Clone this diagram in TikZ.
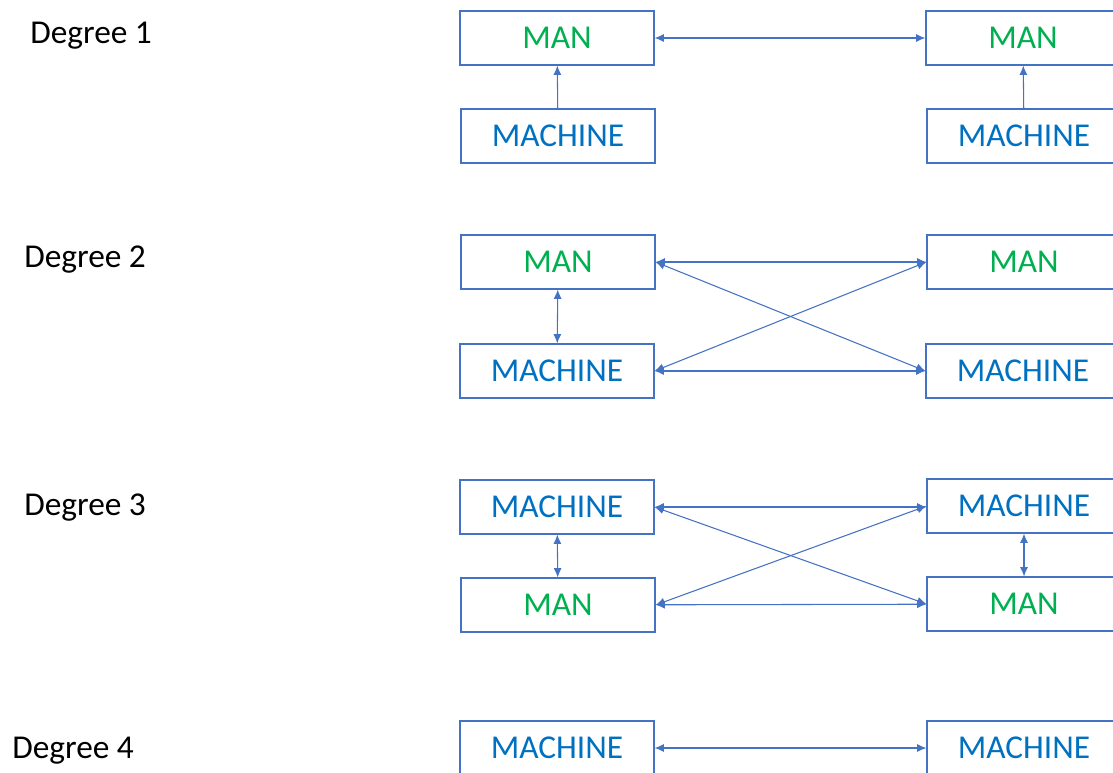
\documentclass[tikz,border=0pt]{standalone}
\usepackage{fontspec}
\setmainfont{Carlito}
\usetikzlibrary{arrows.meta}
\definecolor{boxblue}{HTML}{4472C4}
\definecolor{mangreen}{HTML}{00B050}
\definecolor{machblue}{HTML}{0070C0}
\tikzset {
    box/.style = {
        draw = boxblue,
        line width = 0.8pt,
        minimum width = 145.5pt,
        minimum height = 40.5pt,
        inner sep = 0pt,
        font = \fontsize{25}{30}\selectfont
    },
    man/.style = {box, text = mangreen},
    machine/.style = {box, text = machblue},
    degree/.style = {
        anchor = base west,
        inner sep = 0pt,
        font = \fontsize{25}{30}\selectfont
    },
    link/.style = {
        draw = boxblue,
        line width = 0.8pt,
        arrows = {Latex[length = 7pt, width = 6pt]-Latex[length = 7pt, width = 6pt]}
    },
    up link/.style = {
        draw = boxblue,
        line width = 0.8pt,
        arrows = {-Latex[length = 7pt, width = 6pt]}
    }
}
\begin{document}
\begin{tikzpicture}[x = 0.75pt, y = -0.75pt]
            \useasboundingbox (0, 0) rectangle (1113, 772);
            % degree 1
            \node (deg1) [degree] at (30, 43) {Degree 1};
            \node (d1lman) [man] at (557, 38) {MAN};
            \node (d1lmach) [machine] at (558, 136) {MACHINE};
            \node (d1rman) [man] at (1023, 38) {MAN};
            \node (d1rmach) [machine] at (1024, 136) {MACHINE};
            \draw [link] (d1lman) -- (d1rman);
            \draw [up link] (d1lmach) -- (d1lman);
            \draw [up link] (d1rmach) -- (d1rman);
            % degree 2
            \node (deg2) [degree] at (24, 267) {Degree 2};
            \node (d2lman) [man] at (558, 262) {MAN};
            \node (d2lmach) [machine] at (557, 371) {MACHINE};
            \node (d2rman) [man] at (1024, 262) {MAN};
            \node (d2rmach) [machine] at (1023, 371) {MACHINE};
            \draw [link] (d2lman) -- (d2lmach);
            \draw [link] (d2lman) -- (d2rman);
            \draw [link] (d2lmach) -- (d2rmach);
            \draw [link] (d2lman.east) -- (d2rmach.west);
            \draw [link] (d2lmach.east) -- (d2rman.west);
            % degree 3
            \node (deg3) [degree] at (24, 515) {Degree 3};
            \node (d3lmach) [machine] at (557, 507) {MACHINE};
            \node (d3lman) [man] at (558, 605) {MAN};
            \node (d3rmach) [machine] at (1024, 506) {MACHINE};
            \node (d3rman) [man] at (1024, 604) {MAN};
            \draw [link] (d3lmach) -- (d3lman);
            \draw [link] (d3rmach) -- (d3rman);
            \draw [link] (d3lmach.east) -- (d3rmach.west |- d3lmach.east);
            \draw [link] (d3lman) -- (d3rman);
            \draw [link] (d3lmach.east) -- (d3rman.west);
            \draw [link] (d3lman.east) -- (d3rmach.west);
            % degree 4
            \node (deg4) [degree] at (12, 758) {Degree 4};
            \node (d4lmach) [machine] at (557, 748) {MACHINE};
            \node (d4rmach) [machine] at (1024, 748) {MACHINE};
            \draw [link] (d4lmach) -- (d4rmach);
\end{tikzpicture}
\end{document}
